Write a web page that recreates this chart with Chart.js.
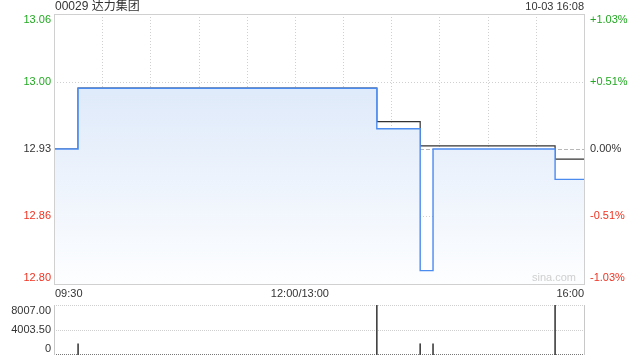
<!DOCTYPE html>
<html>
<head>
<meta charset="utf-8">
<script src="https://cdn.jsdelivr.net/npm/chart.js@4/dist/chart.umd.min.js"></script>
<style>
body { margin: 0; background: #fff; }
#wrap { position: relative; width: 640px; height: 360px; }
canvas { position: absolute; left: 0; }
</style>
</head>
<body>
<div id="wrap">
  <canvas id="price" width="640" height="300" style="top:0"></canvas>
  <canvas id="vol" width="640" height="60" style="top:300px"></canvas>
</div>
<script>
// chart data
const stockTitle = "00029 达力集团";
const stamp = "10-03 16:08";
const prevClose = 12.93;
const minutes = [0, 15, 201, 228, 236, 312, 330];
const prices = [12.93, 12.99, 12.95, 12.81, 12.93, 12.90, 12.90];
const avgPrices = [12.93, 12.99, 12.957, 12.933, 12.933, 12.92, 12.92];
const volMinutes = [15, 201, 228, 236, 312];
const volumes = [1800, 8007, 1800, 1800, 8007];
const pctTicks = [0.0103, 0.0051, 0, -0.0051, -0.0103];
const priceLabels = ["13.06", "13.00", "12.93", "12.86", "12.80"];
const pctLabels = ["+1.03%", "+0.51%", "0.00%", "-0.51%", "-1.03%"];
const gridMinutes = [30, 60, 90, 120, 150, 180, 210, 240, 270, 300];
const timeTicks = [0, 150, 330];
const timeLabels = ["09:30", "12:00/13:00", "16:00"];
const volTicks = [8007, 4003.5, 0];
const volLabels = ["8007.00", "4003.50", "0"];

const FONT = '11px "Liberation Sans", Arial, sans-serif';
const GREEN = '#22a822', RED = '#ee3322', DARK = '#333';

function px(v) { return Math.round(v) + 0.5; }
function clampY(y, a) { return Math.min(Math.max(y, a.top + 6), a.bottom - 6); }
function hline(ctx, a, y, color, dash) {
  ctx.save(); ctx.strokeStyle = color; ctx.lineWidth = 1; ctx.setLineDash(dash);
  ctx.beginPath(); ctx.moveTo(a.left, px(y)); ctx.lineTo(a.right, px(y)); ctx.stroke(); ctx.restore();
}
function vline(ctx, x, top, bottom, color, dash) {
  ctx.save(); ctx.strokeStyle = color; ctx.lineWidth = 1; ctx.setLineDash(dash);
  ctx.beginPath(); ctx.moveTo(px(x), top); ctx.lineTo(px(x), bottom); ctx.stroke(); ctx.restore();
}

const pricePlugin = {
  id: 'priceDeco',
  beforeDatasetsDraw(chart) {
    const ctx = chart.ctx, a = chart.chartArea, sx = chart.scales.x, sy = chart.scales.y;
    gridMinutes.forEach(m => vline(ctx, sx.getPixelForValue(m), a.top, a.bottom, '#d0d0d0', [1, 2]));
    pctTicks.forEach(p => {
      if (p === pctTicks[0] || p === pctTicks[pctTicks.length - 1]) return;
      const y = sy.getPixelForValue(prevClose * (1 + p));
      if (p === 0) hline(ctx, a, y, '#b8b8b8', [4, 2]);
      else hline(ctx, a, y, '#d0d0d0', [1, 2]);
    });
  },
  afterDraw(chart) {
    const ctx = chart.ctx, a = chart.chartArea, sx = chart.scales.x, sy = chart.scales.y;
    ctx.save();
    ctx.strokeStyle = '#d0d0d0'; ctx.lineWidth = 1;
    ctx.strokeRect(px(a.left), px(a.top), Math.round(a.right - a.left), Math.round(a.bottom - a.top));
    ctx.font = FONT; ctx.textBaseline = 'middle';
    pctTicks.forEach((p, i) => {
      const y = clampY(sy.getPixelForValue(prevClose * (1 + p)), a);
      ctx.fillStyle = p > 0 ? GREEN : (p < 0 ? RED : DARK);
      ctx.textAlign = 'right'; ctx.fillText(priceLabels[i], a.left - 3, y);
      ctx.textAlign = 'left'; ctx.fillText(pctLabels[i], a.right + 6, y);
    });
    ctx.fillStyle = DARK;
    timeTicks.forEach((m, i) => {
      ctx.textAlign = i === 0 ? 'left' : (i === timeTicks.length - 1 ? 'right' : 'center');
      ctx.fillText(timeLabels[i], sx.getPixelForValue(m) + (i === 0 ? 1 : (i === 1 ? 5 : 0)), a.bottom + 10);
    });
    ctx.font = '12px "Liberation Sans", "Noto Sans CJK SC", sans-serif';
    ctx.textAlign = 'left'; ctx.fillText(stockTitle, a.left + 1, 7);
    ctx.font = FONT; ctx.textAlign = 'right'; ctx.fillText(stamp, a.right, 7);
    ctx.fillStyle = '#cfcfcf'; ctx.fillText('sina.com', a.right - 8, a.bottom - 6);
    ctx.restore();
  }
};

new Chart(document.getElementById('price'), {
  type: 'line',
  data: {
    datasets: [
      {
        data: minutes.map((m, i) => ({ x: m, y: prices[i] })),
        borderColor: '#4b8bf0', borderWidth: 1.4, stepped: 'before', pointRadius: 0,
        fill: 'start',
        backgroundColor: c => {
          const a = c.chart.chartArea;
          if (!a) return 'rgba(0,0,0,0)';
          const g = c.chart.ctx.createLinearGradient(0, a.top, 0, a.bottom);
          g.addColorStop(0, '#d3e2f8');
          g.addColorStop(1, '#fdfeff');
          return g;
        }
      },
      {
        data: minutes.map((m, i) => ({ x: m, y: avgPrices[i] })),
        borderColor: '#333', borderWidth: 1.2, stepped: 'before', pointRadius: 0, fill: false
      }
    ]
  },
  options: {
    responsive: false, animation: false, devicePixelRatio: 1,
    layout: { padding: { left: 54, right: 56, top: 14, bottom: 16 } },
    plugins: { legend: { display: false }, tooltip: { enabled: false } },
    scales: {
      x: { type: 'linear', min: 0, max: 330, display: false },
      y: { min: prevClose * (1 + pctTicks[4]), max: prevClose * (1 + pctTicks[0]), display: false }
    }
  },
  plugins: [pricePlugin]
});

const volPlugin = {
  id: 'volDeco',
  beforeDatasetsDraw(chart) {
    const ctx = chart.ctx, a = chart.chartArea, sy = chart.scales.y;
    volTicks.forEach((v, i) => {
      const y = sy.getPixelForValue(v);
      hline(ctx, a, i === volTicks.length - 1 ? Math.min(y, a.bottom - 1) : y,
        i === volTicks.length - 1 ? '#777' : '#cfcfcf', [1, 1]);
    });
    vline(ctx, a.left, a.top, a.bottom, '#c8c8c8', []);
    vline(ctx, a.right, a.top, a.bottom, '#c8c8c8', []);
  },
  afterDraw(chart) {
    const ctx = chart.ctx, a = chart.chartArea, sy = chart.scales.y;
    ctx.save();
    ctx.font = FONT; ctx.textBaseline = 'middle'; ctx.textAlign = 'right'; ctx.fillStyle = DARK;
    volTicks.forEach((v, i) => ctx.fillText(volLabels[i], a.left - 3, clampY(sy.getPixelForValue(v), a)));
    ctx.restore();
  }
};

new Chart(document.getElementById('vol'), {
  type: 'bar',
  data: {
    datasets: [{
      data: volMinutes.map((m, i) => ({ x: m, y: volumes[i] })),
      backgroundColor: '#444', barThickness: 1
    }]
  },
  options: {
    responsive: false, animation: false, devicePixelRatio: 1,
    layout: { padding: { left: 54, right: 56, top: 5, bottom: 5 } },
    plugins: { legend: { display: false }, tooltip: { enabled: false } },
    scales: {
      x: { type: 'linear', min: 0, max: 330, offset: false, display: false },
      y: { min: 0, max: volTicks[0], display: false }
    }
  },
  plugins: [volPlugin]
});
</script>
</body>
</html>
